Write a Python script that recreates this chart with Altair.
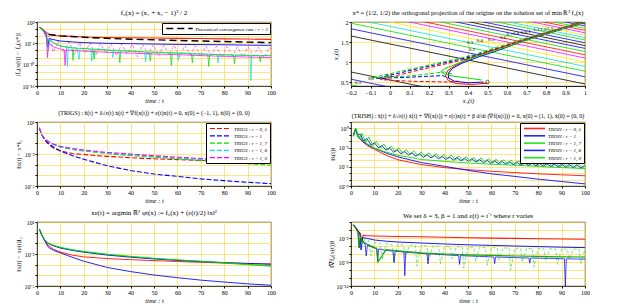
import altair as alt
import numpy as np
import pandas as pd

FONT = "Liberation Serif"
RED, BLUE, GREEN, CYAN, MAGENTA, BLACK, YELLOW = "#ff0000", "#0000ff", "#00dd00", "#00e0e0", "#ff00ff", "#000000", "#f0f000"
GRID = "#ffd84d"
W, H = 234, 64

T_TICKS = [0, 10, 20, 30, 40, 50, 60, 70, 80, 90, 100]

# ---------------- panel 1 : |f0(x(t)) - f0(x*)|  (exponents of 10) ----------------
P1_RED_T = [1, 2, 3, 4, 5, 6, 8, 10, 15, 20, 30, 40, 50, 60, 70, 80, 90, 100]
P1_RED_E = [0.5, 0.2, -0.4, -1.0, -1.4, -1.6, -1.8, -1.9, -2.05, -2.2, -2.35, -2.45, -2.5, -2.6, -2.65, -2.75, -2.8, -2.9]
P1_THEO_T = [5, 10, 20, 30, 40, 50, 60, 70, 80, 90, 100]
P1_THEO_E = [-1.5, -1.9, -2.3, -2.6, -2.85, -3.0, -3.2, -3.35, -3.5, -3.65, -3.8]
P1_BLUE_T = [1, 2, 3, 4, 4.6, 5.2, 6, 8, 10, 15, 20, 30, 40, 50, 60, 70, 80, 90, 100]
P1_BLUE_E = [0.5, 0.1, -0.6, -1.5, -5.0, -2.6, -2.8, -3.1, -3.35, -3.6, -3.8, -4.0, -4.1, -4.2, -4.3, -4.35, -4.4, -4.5, -4.55]
P1_MAG_DASH = [(3, -0.6), (4, -1.6), (5, -2.0), (6, -3.2), (7, -6.5), (9, -3.4), (11.5, -6.8), (13.7, -3.6), (16, -7.2),
               (18.2, -3.8), (20.5, -6.6), (22.7, -3.9), (25, -7.4), (27.2, -4.0), (29.5, -6.9), (31.7, -4.1), (34, -7.5),
               (36.2, -4.2), (38.5, -7.0), (40.7, -4.3), (43, -7.8), (45.2, -4.35), (47.5, -7.1), (49.7, -4.4), (52, -7.6),
               (54.2, -4.5), (56.5, -7.2), (58.7, -4.55), (61, -7.9), (63.2, -4.6), (65.5, -7.3), (67.7, -4.7), (70, -7.7),
               (72.2, -4.75), (74.5, -7.4), (76.7, -4.8), (79, -8.0), (81.2, -4.9), (83.5, -7.5), (85.7, -4.95), (88, -7.8),
               (90.2, -5.0), (92.5, -7.6), (94.7, -5.1), (97, -8.1), (99.2, -5.2), (100, -5.5)]
P1_CYAN = [(1, 0.5), (2, 0.0), (3, -0.8), (4, -1.8), (4.8, -6.0), (5.5, -3.0), (7, -3.8), (9, -4.5), (11, -4.9), (12.6, -5.0),
           (13, -10.5), (13.4, -5.05), (17, -5.3), (18, -8.5), (18.4, -5.35), (23, -5.6), (23.4, -9.0), (23.8, -5.6), (27, -5.7),
           (32, -5.9), (32.4, -8.0), (32.8, -5.9), (41, -6.2), (46, -6.4), (46.4, -9.2), (46.8, -6.4), (56, -6.6), (60, -6.7),
           (60.4, -8.8), (60.8, -6.7), (70, -7.0), (77, -7.1), (77.4, -9.5), (77.8, -7.1), (84, -7.3), (91, -7.4), (91.4, -14.5),
           (91.8, -7.4), (100, -7.45)]
P1_GREEN = [(1, 0.5), (2, 0.0), (3, -0.8), (4, -2.0), (5, -3.5), (6, -3.4), (8, -4.2), (10, -4.7), (12, -5.0), (15, -5.3),
            (15.4, -8.8), (15.8, -5.3), (20, -5.5), (24, -5.7), (24.4, -8.5), (24.8, -5.7), (30, -5.9), (35, -6.1), (35.4, -9.5),
            (35.8, -6.1), (42, -6.3), (48, -6.5), (48.4, -9.0), (48.8, -6.5), (57, -6.7), (57.4, -10.2), (57.8, -6.7), (66, -6.95),
            (66.4, -9.5), (66.8, -6.95), (73, -7.1), (73.4, -10.5), (73.8, -7.1), (84, -7.3), (84.4, -9.8), (84.8, -7.3),
            (95, -7.45), (95.4, -9.2), (95.8, -7.45), (100, -7.5)]
P1_MAG = [(3, -0.9), (4, -2.5), (4.5, -8.0), (5, -4.0), (7, -5.0), (10, -5.6), (11.6, -5.8), (12, -10.2), (12.4, -5.85),
          (15, -6.0), (20, -6.2), (30, -6.5), (40, -6.75), (50, -7.0), (60, -7.2), (70, -7.45), (80, -7.65), (90, -7.85), (100, -8.0)]
P1_LEGEND = ["Theoretical convergence rate : r = 2"]

# ---------------- panel 2 : phase plane ----------------
C_LEVELS = [0.23, 0.37, 0.55, 1.45, 1.63, 1.77, 1.89, 2.0, 2.1, 2.18, 2.26, 2.34, 2.41, 2.48, 2.55, 2.61, 2.67, 2.73, 2.79, 2.84, 2.9, 2.95]
C_COLORS = [GREEN, BLUE, BLACK, BLACK, BLUE, GREEN, CYAN, YELLOW, MAGENTA, RED, GREEN, BLUE, BLACK, BLUE, GREEN, CYAN,
            YELLOW, MAGENTA, RED, GREEN, BLUE, BLACK]
X1_TICKS = [-0.2, -0.1, 0, 0.1, 0.2, 0.3, 0.4, 0.5, 0.6, 0.7, 0.8, 0.9, 1]
X2_TICKS = [0.5, 1, 1.5, 2]
TR_RED_SOLID = [(0.5, 0.47), (0.42, 0.44), (0.34, 0.46), (0.3, 0.53), (0.285, 0.65), (0.295, 0.78), (0.33, 0.9),
                (0.4, 1.07), (0.5, 1.25), (0.65, 1.5), (0.8, 1.73), (1.0, 2.02)]
TR_BLUE_SOLID = [(0.48, 0.5), (0.4, 0.48), (0.33, 0.52), (0.3, 0.6), (0.3, 0.72), (0.32, 0.84), (0.37, 0.97),
                 (0.45, 1.12), (0.56, 1.3), (0.7, 1.55), (0.85, 1.78), (1.0, 2.0)]
TR_GREEN_SOLID = [(0.47, 0.55), (0.4, 0.6), (0.33, 0.64), (0.28, 0.7), (0.26, 0.76), (0.28, 0.83), (0.34, 0.95),
                  (0.42, 1.1), (0.55, 1.3), (0.7, 1.55), (0.85, 1.78), (1.0, 2.0)]
TR_GREEN_DASH = [(1.0, 2.03), (0.7, 1.6), (0.4, 1.14), (0.15, 0.87), (-0.1, 0.6), (0.1, 0.65), (0.28, 0.75), (0.32, 0.7)]
TR_BLUE_DASH = [(1.0, 2.0), (0.7, 1.57), (0.39, 1.1), (0.15, 0.84), (-0.07, 0.59), (0.1, 0.62), (0.27, 0.66), (0.3, 0.6)]
TR_RED_DASH = [(1.0, 1.98), (0.7, 1.55), (0.38, 1.06), (0.15, 0.8), (-0.05, 0.56), (0.1, 0.52), (0.3, 0.5), (0.35, 0.52)]
LBL_TEXT = ["0.1", "0.2", "0.3", "0.4", "0.5", "0.6", "0.7", "0.8", "0.9", "1", "1.1", "1.2", "1.3", "0.3", "0.2", "0.1"]
LBL_X1 = [0.41, 0.42, 0.41, 0.46, 0.52, 0.58, 0.613, 0.647, 0.685, 0.715, 0.75, 0.785, 0.82, -0.165, -0.097, -0.003]
LBL_X2 = [1.15, 1.32, 1.49, 1.55, 1.58, 1.625, 1.69, 1.72, 1.75, 1.78, 1.82, 1.83, 1.85, 0.51, 0.59, 0.67]
X_STAR = [(0.5, 0.5)]

# ---------------- panel 3 : TRIGS ||x(t)-x*|| ----------------
P3_T = [1, 2, 3, 4, 5, 7, 10, 15, 20, 30, 40, 50, 60, 70, 80, 90, 100]
P3_NAMES = ["TRIGS : r = 0, 5", "TRIGS : r = 1", "TRIGS : r = 1, 7", "TRIGS : r = 1, 8", "TRIGS : r = 1, 9"]
P3_COLORS = [RED, BLUE, GREEN, CYAN, MAGENTA]
P3_E = [
    [0.45, -0.2, -0.55, -0.85, -1.1, -1.45, -1.7, -1.95, -2.05, -2.22, -2.35, -2.45, -2.53, -2.6, -2.66, -2.71, -2.75],
    [0.45, -0.2, -0.58, -0.85, -1.05, -1.35, -1.72, -2.15, -2.5, -3.1, -3.55, -3.88, -4.1, -4.33, -4.5, -4.65, -4.78],
    [0.45, -0.2, -0.5, -0.7, -0.88, -1.12, -1.36, -1.58, -1.72, -1.96, -2.14, -2.3, -2.45, -2.6, -2.75, -2.9, -3.05],
    [0.45, -0.2, -0.5, -0.7, -0.87, -1.1, -1.33, -1.55, -1.68, -1.91, -2.08, -2.23, -2.37, -2.5, -2.63, -2.76, -2.88],
    [0.45, -0.2, -0.5, -0.68, -0.85, -1.06, -1.27, -1.48, -1.63, -1.85, -2.0, -2.16, -2.3, -2.42, -2.53, -2.62, -2.7],
]

# ---------------- panel 4 : TRISH ||x'(t)|| ----------------
P4_NAMES = ["TRISH : r = 0, 5", "TRISH : r = 1", "TRISH : r = 1, 7", "TRISH : r = 1, 8", "TRISH : r = 1, 9"]
P4_COLORS = [RED, BLUE, GREEN, BLUE, GREEN]
P4_T = [1, 1.5, 2, 2.5, 3, 4, 5, 7, 10, 15, 20, 30, 40, 50, 60, 70, 80, 90, 100]
P4_RED_E = [-1.2, -0.5, -0.2, -0.7, -1.33, -1.7, -2.1, -2.7, -3.27, -4.2, -4.9, -5.65, -6.13, -6.45, -6.7, -6.9, -7.1, -7.25, -7.4]
P4_BLUE_E = [-1.2, -0.5, -0.2, -0.7, -1.3, -1.65, -2.0, -2.55, -3.1, -3.85, -4.44, -5.34, -5.92, -6.56, -7.1, -7.5, -7.93, -8.3, -8.67]
P4_G17_E = [-1.2, -0.4, 0.0, -0.7, -1.4, -1.3, -1.9, -2.4, -3.1, -3.7, -4.2, -4.85, -5.15, -5.4, -5.6, -5.76, -5.95, -6.12, -6.29]
P4_B18 = [(1, -1.2), (2, -0.1), (2.8, -1.0), (4, -0.9), (5.4, -2.0), (6.8, -1.6), (8.6, -2.6), (10, -2.25), (11.8, -3.05),
          (13.2, -2.7), (15, -3.4), (16.4, -3.05), (18.2, -3.7), (19.6, -3.35), (21.4, -3.95), (22.8, -3.6), (24.6, -4.15),
          (26, -3.8), (27.8, -4.35), (29.2, -3.95), (31, -4.5), (32.4, -4.1), (34.2, -4.6), (35.6, -4.2), (37.4, -4.75),
          (38.8, -4.35), (40.6, -4.85), (42, -4.45), (43.8, -4.95), (45.2, -4.55), (47, -5.05), (48.4, -4.65), (50.2, -5.15),
          (51.6, -4.75), (53.4, -5.25), (54.8, -4.85), (56.6, -5.35), (58, -4.95), (59.8, -5.45), (61.2, -5.05), (63, -5.5),
          (64.4, -5.1), (66.2, -5.6), (67.6, -5.2), (69.4, -5.65), (70.8, -5.25), (72.6, -5.75), (74, -5.3), (75.8, -5.8),
          (77.2, -5.4), (79, -5.85), (80.4, -5.45), (82.2, -5.9), (83.6, -5.5), (85.4, -5.95), (86.8, -5.55), (88.6, -6.0),
          (90, -5.6), (91.8, -6.05), (93.2, -5.65), (95, -6.1), (96.4, -5.7), (98.2, -6.15), (100, -5.8)]
P4_G19 = [(1, -1.2), (2, 0.06), (3.4, -1.6), (4.6, -0.75), (6.3, -2.1), (7.6, -1.35), (9.4, -2.7), (10.8, -2.0), (12.6, -3.1),
          (14, -2.45), (15.8, -3.4), (17.2, -2.8), (19, -3.7), (20.4, -3.05), (22.2, -3.9), (23.6, -3.3), (25.4, -4.1),
          (26.8, -3.5), (28.6, -4.3), (30, -3.65), (31.8, -4.45), (33.2, -3.8), (35, -4.55), (36.4, -3.95), (38.2, -4.7),
          (39.6, -4.05), (41.4, -4.8), (42.8, -4.15), (44.6, -4.95), (46, -4.3), (47.8, -5.05), (49.2, -4.4), (51, -5.15),
          (52.4, -4.5), (54.2, -5.25), (55.6, -4.6), (57.4, -5.35), (58.8, -4.7), (60.6, -5.45), (62, -4.8), (63.8, -5.55),
          (65.2, -4.9), (67, -5.6), (68.4, -4.95), (70.2, -5.7), (71.6, -5.05), (73.4, -5.75), (74.8, -5.1), (76.6, -5.85),
          (78, -5.15), (79.8, -5.9), (81.2, -5.2), (83, -5.95), (84.4, -5.3), (86.2, -6.0), (87.6, -5.35), (89.4, -6.05),
          (90.8, -5.4), (92.6, -6.1), (94, -5.45), (95.8, -6.15), (97.2, -5.5), (99, -6.2), (100, -5.7)]

# ---------------- panel 5 : ||x(t) - x_eps(t)|| ----------------
P5_T = [1, 2, 3, 4, 5, 7, 10, 15, 20, 30, 40, 50, 60, 70, 80, 90, 100]
P5_COLORS = [RED, BLUE, GREEN, BLUE, GREEN]
P5_E = [
    [0.35, -0.2, -0.6, -0.95, -1.24, -1.55, -1.82, -2.1, -2.27, -2.43, -2.53, -2.62, -2.7, -2.78, -2.85, -2.9, -2.95],
    [0.35, -0.2, -0.62, -1.05, -1.4, -1.65, -1.9, -2.3, -2.68, -3.26, -3.65, -3.97, -4.22, -4.45, -4.63, -4.8, -4.93],
    [0.35, -0.2, -0.6, -0.85, -1.02, -1.2, -1.4, -1.62, -1.79, -2.05, -2.25, -2.43, -2.57, -2.7, -2.85, -3.0, -3.15],
    [0.35, -0.2, -0.6, -0.86, -1.04, -1.23, -1.44, -1.66, -1.83, -2.1, -2.3, -2.46, -2.6, -2.71, -2.8, -2.88, -2.95],
    [0.35, -0.2, -0.6, -0.84, -1.0, -1.18, -1.37, -1.6, -1.76, -2.02, -2.22, -2.4, -2.55, -2.68, -2.82, -2.97, -3.1],
]

# ---------------- panel 6 : ||grad f0(x(t))|| ----------------
P6_RED_T = [1, 2, 3, 4, 4.6, 5.2, 6, 8, 10, 15, 20, 30, 40, 50, 60, 70, 80, 90, 100]
P6_RED_E = [1.3, 0.6, -0.2, -0.9, -3.0, -1.3, -1.4, -1.45, -1.5, -1.57, -1.62, -1.7, -1.8, -1.95, -2.03, -2.1, -2.18, -2.25, -2.33]
P6_BLUE_T = [1, 2, 3, 3.8, 4.3, 5, 6, 7, 10, 15, 20, 30, 40, 50, 60, 70, 80, 90, 100]
P6_BLUE_E = [1.3, 0.6, -0.3, -1.0, -5.0, -1.9, -2.0, -2.1, -2.5, -2.8, -3.0, -3.25, -3.5, -3.7, -3.85, -4.0, -4.15, -4.3, -4.4]
P6_G17_T = [1, 2, 3, 3.5, 4, 5, 7, 10, 11, 11.5, 15, 20, 30, 40, 50, 60, 70, 80, 90, 100]
P6_G17_E = [1.3, 0.5, -0.5, -4.5, -1.8, -2.9, -3.6, -4.4, -4.55, -8.0, -4.9, -5.2, -5.7, -6.0, -6.2, -6.35, -6.5, -6.6, -6.7, -6.75]
P6_B18 = [(1, 1.3), (2, 0.5), (3, -0.6), (3.5, -4.5), (4, -2.0), (5, -2.6), (6, -3.5), (6.5, -6.5), (7, -3.8), (10, -4.5),
          (11, -4.7), (11.4, -7.8), (11.8, -4.75), (15, -5.1), (18, -5.3), (18.4, -8.2), (18.8, -5.35), (22.6, -5.5),
          (23, -11.4), (23.4, -5.55), (27, -5.7), (30, -5.85), (32.5, -5.95), (32.9, -8.5), (33.3, -5.95), (40, -6.2),
          (46, -6.4), (46.4, -8.6), (46.8, -6.4), (55, -6.6), (61, -6.75), (61.4, -8.4), (61.8, -6.75), (70, -6.9),
          (76, -7.0), (76.4, -8.3), (76.8, -7.0), (85, -7.1), (91.2, -7.2), (91.6, -14.0), (92.0, -7.2), (100, -7.3)]
P6_G19 = [(1, 1.3), (2, 0.6), (3, -0.6), (4, -1.6), (5, -3.5), (6, -2.2), (7.5, -2.6), (8.5, -6.5), (10, -3.1), (12.5, -3.3),
          (13.4, -7.5), (15, -3.4), (17.5, -3.55), (18.3, -8.0), (20, -3.65), (22.5, -3.75), (23.2, -7.0), (25, -3.8),
          (27.5, -3.85), (28.2, -9.0), (30, -3.9), (32.5, -4.0), (33.2, -7.5), (35, -4.0), (37.5, -4.05), (38.2, -8.5),
          (40, -4.1), (42.5, -4.15), (43.2, -7.2), (45, -4.2), (47.5, -4.2), (48.2, -9.5), (50, -4.25), (52.5, -4.3),
          (53.2, -7.8), (55, -4.35), (57.5, -4.4), (58.2, -8.8), (60, -4.4), (62.5, -4.45), (63.2, -7.4), (65, -4.5),
          (67.5, -4.5), (68.2, -10.0), (70, -4.55), (72.5, -4.6), (73.2, -8.0), (75, -4.6), (77.5, -4.65), (78.2, -9.2),
          (80, -4.65), (82.5, -4.7), (83.2, -7.6), (85, -4.7), (87.5, -4.75), (88.2, -8.6), (90, -4.75), (92.5, -4.78),
          (93.2, -7.3), (95, -4.8), (97.5, -4.8), (98.2, -8.4), (100, -4.82)]


# ---------------- helpers ----------------
def sup(n):
    return "10" + str(n).translate(str.maketrans("-0123456789", "⁻⁰¹²³⁴⁵⁶⁷⁸⁹"))


def df_te(ts, es, name=""):
    return pd.DataFrame({"t": ts, "v": [10.0 ** e for e in es], "s": name})


def df_pairs(pairs, name=""):
    return df_te([p[0] for p in pairs], [p[1] for p in pairs], name)


def x_time():
    return alt.X("t:Q", scale=alt.Scale(domain=[0, 100], nice=False),
                 axis=alt.Axis(values=T_TICKS, title="time : t", titleFontStyle="italic", format="d"))


def y_log(lo, hi, step, labels, title):
    expr = "''"
    for e in labels:
        expr = f"round(log(datum.value)/LN10) == {e} ? '{sup(e)}' : " + expr
    return alt.Y("v:Q", scale=alt.Scale(type="log", domain=[10.0 ** lo, 10.0 ** hi], nice=False),
                 axis=alt.Axis(values=[10.0 ** e for e in range(lo, hi + 1, step)], labelExpr=expr, title=title))


def line(df, x, y, color, width=0.9, dash=None, opacity=0.9):
    kw = dict(color=color, strokeWidth=width, opacity=opacity, clip=True)
    if dash:
        kw["strokeDash"] = dash
    return alt.Chart(df).mark_line(**kw).encode(x=x, y=y)


def legend(dash=None, width=1.2, half=4, size=28, sym_off=9, lab_off=10):
    kw = dict(orient="top-right", title=None, symbolType=f"M-{half},0H{half}", symbolStrokeWidth=width,
              symbolSize=size, symbolOffset=sym_off, labelOffset=lab_off,
              labelFont=FONT, labelFontSize=5, labelFontStyle="italic", strokeColor="black", fillColor="white",
              padding=2, offset=1, rowPadding=0.3, labelLimit=200)
    if dash:
        kw["symbolDash"] = dash
    return alt.Legend(**kw)


def title(text, size=7):
    return alt.Title(text=text, fontSize=size, font=FONT, fontWeight="normal", anchor="middle", offset=3)


# ---------------- panel 1 ----------------
X, Y = x_time(), y_log(-16, 2, 2, [2, -4, -10, -16], "|f₀(x(t)) − f₀(x*)|")
p1 = alt.layer(
    line(df_pairs(P1_MAG_DASH), X, Y, MAGENTA, 0.8, [3, 2], 0.7),
    line(df_te(P1_RED_T, P1_RED_E), X, Y, RED, 1.1),
    line(df_te(P1_BLUE_T, P1_BLUE_E), X, Y, BLUE, 1.0),
    line(df_pairs(P1_CYAN), X, Y, CYAN, 0.9, None, 0.8),
    line(df_pairs(P1_GREEN), X, Y, GREEN, 0.9, None, 0.8),
    line(df_pairs(P1_MAG), X, Y, MAGENTA, 0.9, None, 0.8),
    alt.Chart(df_te(P1_THEO_T, P1_THEO_E, P1_LEGEND[0])).mark_line(strokeDash=[7, 4], strokeWidth=1.4, clip=True).encode(
        x=X, y=Y, color=alt.Color("s:N", scale=alt.Scale(domain=P1_LEGEND, range=[BLACK]),
                                  legend=legend([7, 4], 1.4, half=5, size=28, sym_off=12, lab_off=12))),
).properties(width=W, height=H, title=title("f₀(x) = (x₁ + x₂ − 1)² / 2"))

# ---------------- panel 2 ----------------
X2 = alt.X("x1:Q", scale=alt.Scale(domain=[-0.2, 1], nice=False),
           axis=alt.Axis(values=X1_TICKS, title="x₁(t)", titleFontStyle="italic", format="~g"))
Y2 = alt.Y("x2:Q", scale=alt.Scale(domain=[0.4, 2], nice=False),
           axis=alt.Axis(values=X2_TICKS, title="x₂(t)", titleFontStyle="italic", format="~g"))
crows = []
for k, c in enumerate(C_LEVELS):
    crows.append({"x1": -0.2, "x2": c + 0.2, "k": k})
    crows.append({"x1": 1.0, "x2": c - 1.0, "k": k})
contours = alt.Chart(pd.DataFrame(crows)).mark_line(strokeWidth=0.8, clip=True).encode(
    x=X2, y=Y2, detail="k:N",
    color=alt.Color("k:N", scale=alt.Scale(domain=list(range(len(C_LEVELS))), range=C_COLORS), legend=None))


def traj(pairs, color, dash=None):
    df = pd.DataFrame({"x1": [p[0] for p in pairs], "x2": [p[1] for p in pairs], "i": list(range(len(pairs)))})
    kw = dict(color=color, strokeWidth=1.0, clip=True)
    if dash:
        kw["strokeDash"] = dash
    return alt.Chart(df).mark_line(**kw).encode(x=X2, y=Y2, order="i:Q")


labels_df = pd.DataFrame({"x1": LBL_X1, "x2": LBL_X2, "txt": LBL_TEXT})
p2 = alt.layer(
    contours,
    traj(TR_RED_DASH, RED, [4, 2]), traj(TR_BLUE_DASH, BLUE, [4, 2]), traj(TR_GREEN_DASH, GREEN, [4, 2]),
    traj(TR_RED_SOLID, RED), traj(TR_BLUE_SOLID, BLUE), traj(TR_GREEN_SOLID, GREEN),
    alt.Chart(labels_df).mark_text(font=FONT, fontSize=5, color="black").encode(x=X2, y=Y2, text="txt:N"),
    alt.Chart(pd.DataFrame({"x1": [p[0] for p in X_STAR], "x2": [p[1] for p in X_STAR]})).mark_point(
        shape="circle", filled=False, color="black", size=12, strokeWidth=0.8).encode(x=X2, y=Y2),
).properties(width=W, height=H, title=title(
    "x* = (1/2, 1/2)  the orthogonal projection of the origine on the solution set of  min\u2009ℝ²\u2009f₀(x)", 6.5))

# ---------------- panel 3 ----------------
X, Y = x_time(), y_log(-5, 1, 1, [1, -2, -5], "‖x(t) − x*‖₂")
df3 = pd.concat([df_te(P3_T, e, n) for e, n in zip(P3_E, P3_NAMES)])
p3 = alt.Chart(df3).mark_line(strokeDash=[5, 2], strokeWidth=1.1, clip=True).encode(
    x=X, y=Y, color=alt.Color("s:N", scale=alt.Scale(domain=P3_NAMES, range=P3_COLORS), sort=P3_NAMES,
                              legend=legend([5, 2], 1.2))
).properties(width=W, height=H, title=title(
    "(TRIGS) :  ẍ(t) + δ√ε(t) ẋ(t) + ∇f(x(t)) + ε(t)x(t) = 0, x(0) = (−1, 1), ẋ(0) = (0, 0)", 6))

# ---------------- panel 4 ----------------
X, Y = x_time(), y_log(-9, 1, 1, [0, -3, -6, -9], "‖ẋ(t)‖")
df4 = pd.concat([
    df_te(P4_T, P4_RED_E, P4_NAMES[0]), df_te(P4_T, P4_BLUE_E, P4_NAMES[1]), df_te(P4_T, P4_G17_E, P4_NAMES[2]),
    df_pairs(P4_B18, P4_NAMES[3]), df_pairs(P4_G19, P4_NAMES[4])])
p4 = alt.Chart(df4).mark_line(strokeWidth=1.0, clip=True, opacity=0.85).encode(
    x=X, y=Y, color=alt.Color("s:N", scale=alt.Scale(domain=P4_NAMES, range=P4_COLORS), sort=P4_NAMES,
                              legend=legend(None, 1.6))
).properties(width=W, height=H, title=title(
    "(TRISH) :  ẍ(t) + δ√ε(t) ẋ(t) + ∇f(x(t)) + ε(t)x(t) + β d/dt (∇f(x(t))) = 0,  x(0) = (1, 1), ẋ(0) = (0, 0)", 6))

# ---------------- panel 5 ----------------
X, Y = x_time(), y_log(-5, 1, 1, [1, -2, -5], "‖x(t) − xε(t)‖₂")
p5 = alt.layer(*[line(df_te(P5_T, e), X, Y, c, 1.0, None, 0.85) for e, c in zip(P5_E, P5_COLORS)]).properties(
    width=W, height=H, title=title("xε(t) = argmin ℝ² φt(x) := f₀(x) + (ε(t)/2) ‖x‖²"))

# ---------------- panel 6 ----------------
X, Y = x_time(), y_log(-14, 2, 2, [-2, -8, -14], "‖∇f₀(x(t))‖")
p6 = alt.layer(
    line(df_pairs(P6_G19), X, Y, GREEN, 0.8, [3, 2], 0.7),
    line(df_te(P6_RED_T, P6_RED_E), X, Y, RED, 1.1),
    line(df_te(P6_BLUE_T, P6_BLUE_E), X, Y, BLUE, 1.0),
    line(df_pairs(P6_B18), X, Y, BLUE, 0.9, None, 0.8),
    line(df_te(P6_G17_T, P6_G17_E), X, Y, "#00a000", 1.2, None, 0.9),
).properties(width=W, height=H, title=title("We set δ = 3, β = 1 and ε(t) = t⁻ʳ where r varies"))

chart = alt.concat(p1, p2, p3, p4, p5, p6, columns=2, spacing={"row": 36, "column": 80}, bounds="flush").resolve_scale(
    color="independent"
).properties(padding={"left": 5, "top": 0, "right": 2, "bottom": 0}).configure_view(
    stroke="black", strokeWidth=0.8
).configure_axis(
    labelFont=FONT, titleFont=FONT, labelFontSize=6, titleFontSize=6.5, titleFontWeight="normal",
    labelColor="black", titleColor="black", tickColor="black", domainColor="black", domainWidth=0.6,
    tickSize=2, labelPadding=1, titlePadding=2, gridColor=GRID, gridWidth=0.7, grid=True, labelFlush=False
)

chart.save("out.html", embed_options={"renderer": "svg", "actions": False})
